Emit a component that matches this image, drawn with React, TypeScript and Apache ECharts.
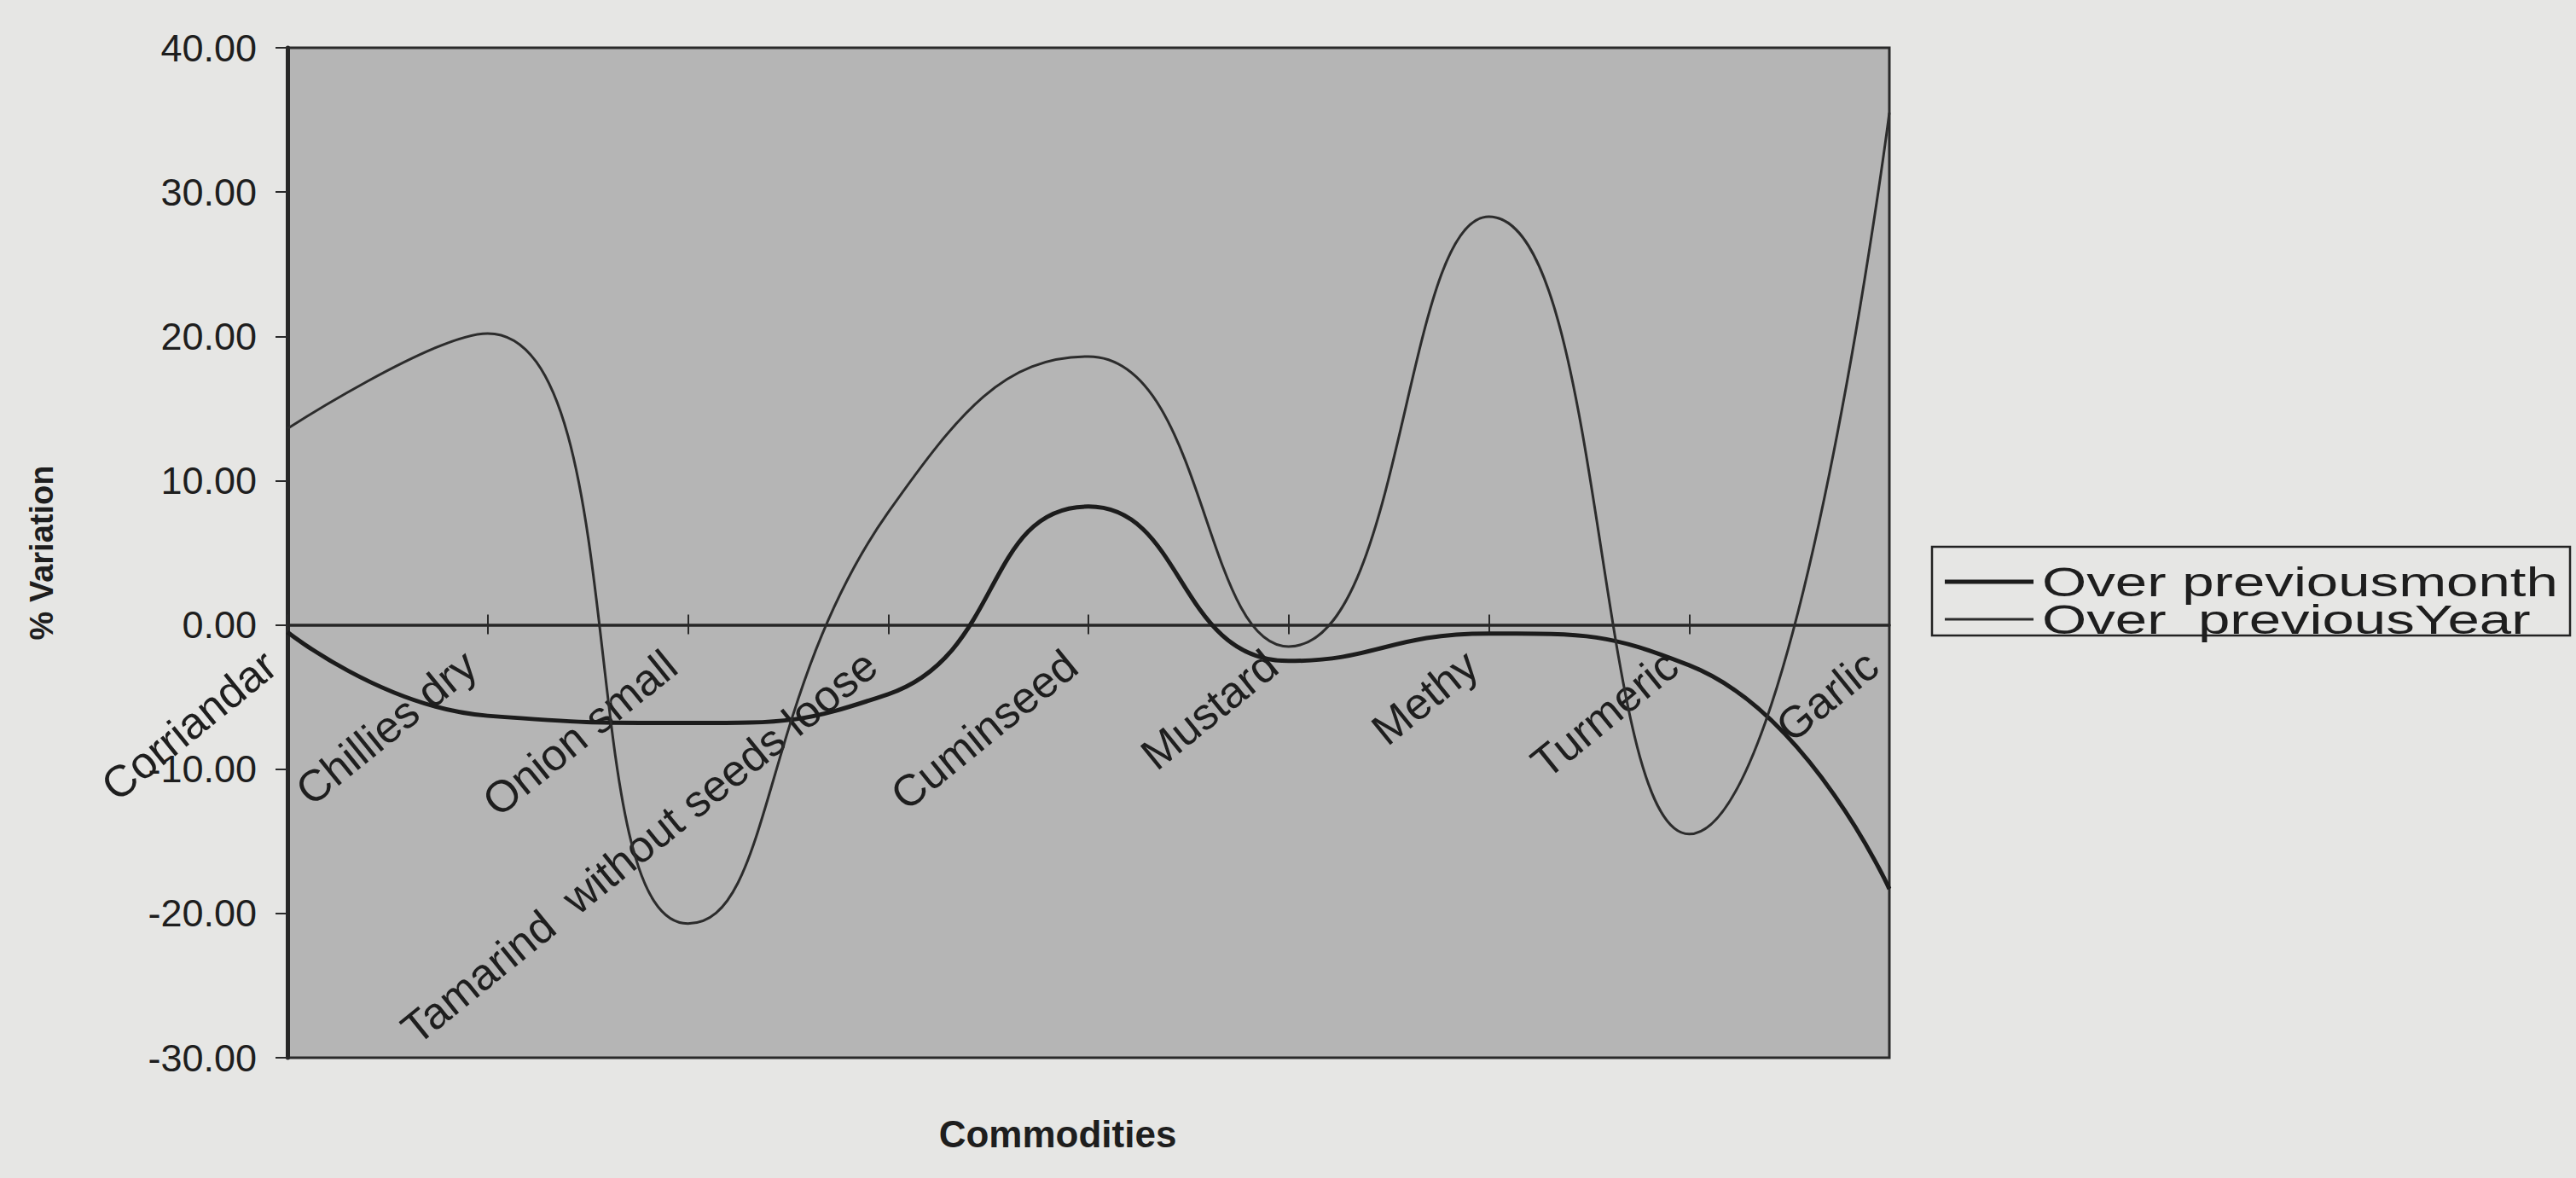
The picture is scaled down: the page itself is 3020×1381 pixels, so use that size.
import React, { useEffect, useRef } from "react";
import * as echarts from "echarts";

const categories = [
  "Corriandar",
  "Chillies dry",
  "Onion small",
  "Tamarind  without seeds loose",
  "Cuminseed",
  "Mustard",
  "Methy",
  "Turmeric",
  "Garlic",
];
const overPreviousMonth = [-0.5, -6.3, -6.8, -4.8, 8.2, -2.5, -0.6, -2.8, -18.3];
const overPreviousYear = [13.6, 20.2, -20.7, 7.8, 18.6, -1.5, 28.3, -14.5, 35.5];
const seriesNames = ["Over previousmonth", "Over  previousYear"];
const yMin = -30;
const yMax = 40;
const yInterval = 10;

const FONT = "'Liberation Sans', Arial, sans-serif";

const GRID_TOP = 56;
const GRID_HEIGHT = 1184;
// distance from the grid bottom up to the value 0, used to lift the label-only axis onto the zero line
const zeroOffset = -(GRID_HEIGHT * (0 - yMin)) / (yMax - yMin);

const LINE_COLORS = ["#1c1c1c", "#2c2c2c"];
const LINE_WIDTHS = [5, 3];

export default function App() {
  const ref = useRef<HTMLDivElement>(null);
  useEffect(() => {
    if (!ref.current) return;
    const chart = echarts.init(ref.current, null, { renderer: "svg" });

    // legend drawn as a boxed key (box, two line samples, two labels)
    const legendLeft = 2265;
    const legendTop = 641;
    const legendRows = [682, 726];
    const legendChildren: any[] = [
      {
        type: "rect",
        shape: { x: legendLeft, y: legendTop, width: 748, height: 104 },
        style: { fill: "none", stroke: "#222", lineWidth: 2.5 },
      },
    ];
    seriesNames.forEach((name, i) => {
      legendChildren.push({
        type: "line",
        shape: { x1: legendLeft + 15, y1: legendRows[i], x2: legendLeft + 119, y2: legendRows[i] },
        style: { stroke: LINE_COLORS[i], lineWidth: LINE_WIDTHS[i] },
      });
      legendChildren.push({
        type: "text",
        x: legendLeft + 129,
        y: legendRows[i],
        scaleX: 1.4,
        style: {
          text: name,
          fontSize: 48,
          fontFamily: FONT,
          fill: "#1e1e1e",
          textAlign: "left",
          textVerticalAlign: "middle",
        },
      });
    });

    chart.setOption({
      animation: false,
      backgroundColor: "#e6e6e4",
      textStyle: { fontFamily: FONT },
      grid: {
        left: 337,
        top: GRID_TOP,
        width: 1878,
        height: GRID_HEIGHT,
        show: true,
        backgroundColor: "#b5b5b5",
        borderColor: "#2a2a2a",
        borderWidth: 3,
        containLabel: false,
        outerBoundsMode: "none",
      },
      xAxis: [
        {
          type: "category",
          data: categories,
          boundaryGap: false,
          axisLine: { onZero: true, lineStyle: { color: "#262626", width: 3.5 } },
          axisTick: { show: true, alignWithLabel: true, length: 11, lineStyle: { color: "#2a2a2a", width: 2 } },
          axisLabel: { show: false },
          splitLine: { show: false },
        },
        {
          type: "category",
          data: categories,
          boundaryGap: false,
          position: "bottom",
          offset: zeroOffset,
          axisLine: { show: false, onZero: false },
          axisTick: { show: true, inside: true, alignWithLabel: true, length: 12, lineStyle: { color: "#2a2a2a", width: 2 } },
          axisLabel: {
            interval: 0,
            rotate: 39,
            margin: 24,
            padding: [0, 26, 0, 0],
            fontSize: 52,
            color: "#1e1e1e",
            fontFamily: FONT,
          },
          splitLine: { show: false },
        },
      ],
      yAxis: {
        type: "value",
        min: yMin,
        max: yMax,
        interval: yInterval,
        name: "% Variation",
        nameLocation: "middle",
        nameRotate: 90,
        nameGap: 269,
        nameTextStyle: { fontSize: 38, fontWeight: "bold", color: "#1e1e1e", fontFamily: FONT },
        axisLine: { show: true, lineStyle: { color: "#262626", width: 5 } },
        axisTick: { show: true, length: 14, lineStyle: { color: "#2a2a2a", width: 2 } },
        axisLabel: {
          margin: 36,
          fontSize: 45,
          color: "#1e1e1e",
          fontFamily: FONT,
          formatter: (v: number) => v.toFixed(2),
        },
        splitLine: { show: false },
      },
      graphic: [
        {
          type: "text",
          x: 1240,
          y: 1329,
          style: {
            text: "Commodities",
            fontSize: 44,
            fontWeight: "bold",
            fontFamily: FONT,
            fill: "#1e1e1e",
            textAlign: "center",
            textVerticalAlign: "middle",
          },
        },
        { type: "group", children: legendChildren },
      ],
      series: [
        {
          name: seriesNames[0],
          type: "line",
          xAxisIndex: 0,
          data: overPreviousMonth,
          smooth: 0.5,
          showSymbol: false,
          symbol: "none",
          lineStyle: { color: LINE_COLORS[0], width: LINE_WIDTHS[0] },
          itemStyle: { color: LINE_COLORS[0] },
        },
        {
          name: seriesNames[1],
          type: "line",
          xAxisIndex: 0,
          data: overPreviousYear,
          smooth: 0.5,
          showSymbol: false,
          symbol: "none",
          lineStyle: { color: LINE_COLORS[1], width: LINE_WIDTHS[1] },
          itemStyle: { color: LINE_COLORS[1] },
        },
      ],
    });
    return () => chart.dispose();
  }, []);
  return (
    <div
      ref={ref}
      style={{ position: "absolute", left: 0, top: 0, width: 3020, height: 1381 }}
    />
  );
}
